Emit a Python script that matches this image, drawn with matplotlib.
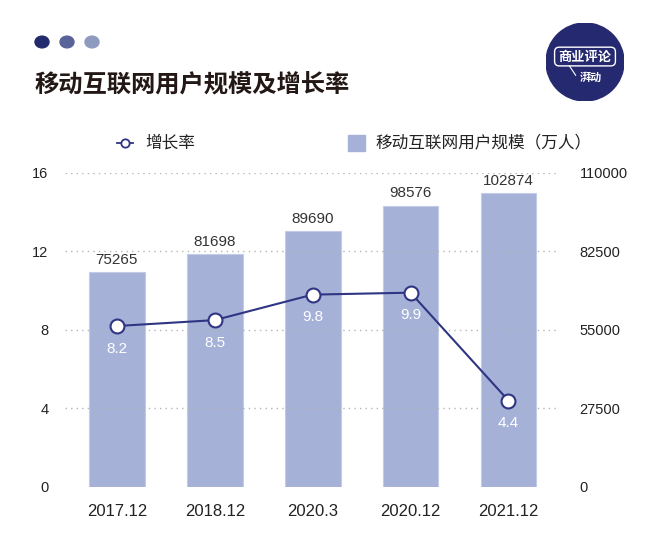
import matplotlib
matplotlib.use('Agg')
import matplotlib.pyplot as plt
from matplotlib.patches import Circle, FancyBboxPatch, Rectangle
from matplotlib.lines import Line2D

plt.rcParams['font.family'] = ['Liberation Sans', 'Noto Sans CJK SC', 'DejaVu Sans']
CJK = ['Noto Sans CJK SC', 'DejaVu Sans']

# 数据
categories = ['2017.12', '2018.12', '2020.3', '2020.12', '2021.12']
users = [75265, 81698, 89690, 98576, 102874]
rate = [8.2, 8.5, 9.8, 9.9, 4.4]
left_ticks = [0, 4, 8, 12, 16]
right_ticks = [0, 27500, 55000, 82500, 110000]
legend_labels = ['增长率', '移动互联网用户规模（万人）']

bar_color = '#a6b1d8'
line_color = '#2f3582'
navy = '#25296f'

W, H = 650, 544
fig = plt.figure(figsize=(6.5, 5.44), dpi=100)
ax = fig.add_axes([0.1, 0.105, 0.762, 0.577])
ax2 = ax.twinx()

x = list(range(len(categories)))

# bars on right axis
ax2.bar(x, users, width=0.57, color=bar_color, edgecolor='#c3cbe8', linewidth=0.8, zorder=2)
for xi, v in zip(x, users):
    ax2.text(xi, v + 1800, str(v), ha='center', va='bottom', fontsize=11, color='#333333')
ax2.set_ylim(0, 110000)
ax2.set_yticks(right_ticks)
ax2.set_yticklabels([str(t) for t in right_ticks])

# gridlines on left axis
ax.set_ylim(0, 16)
ax.set_yticks(left_ticks)
for t in left_ticks[1:]:
    ax.axhline(t, color='#b5b5b5', linestyle=(0, (1, 3)), linewidth=1, zorder=0)

ax.set_zorder(1)
ax.patch.set_visible(False)
ax2.set_zorder(0)

# line on top
ax.plot(x, rate, color=line_color, linewidth=1.5, marker='o', markersize=10,
        markerfacecolor='white', markeredgecolor=line_color, markeredgewidth=1.5, zorder=5)
for xi, v in zip(x, rate):
    ax.text(xi, v - 0.8, str(v), ha='center', va='top', fontsize=11, color='white', zorder=6)

ax.set_xlim(-0.53, 4.53)
ax.set_xticks(x)
ax.set_xticklabels(categories, fontsize=12, color='#222222')

for a in (ax, ax2):
    for s in a.spines.values():
        s.set_visible(False)
    a.tick_params(length=0)
ax.tick_params(axis='y', labelsize=10.5, pad=12, colors='#222222')
ax.tick_params(axis='x', pad=12)
ax2.tick_params(axis='y', labelsize=10.5, pad=14, colors='#222222')

# legend, drawn by hand
ly = 1 - 143 / H
fig.add_artist(Line2D([117 / W, 133 / W], [ly, ly], color=line_color, linewidth=1.3,
                      transform=fig.transFigure))
fig.add_artist(Line2D([125 / W], [ly], marker='o', markersize=6, markerfacecolor='white',
                      markeredgecolor=line_color, markeredgewidth=1.3, transform=fig.transFigure))
fig.text(145 / W, ly, legend_labels[0], family=CJK, fontsize=12, color='#222222',
         va='center', ha='left')
fig.add_artist(Rectangle((348 / W, ly - 8 / H), 17 / W, 16 / H, color=bar_color,
                         transform=fig.transFigure))
fig.text(375 / W, ly, legend_labels[1], family=CJK, fontsize=12, color='#222222',
         va='center', ha='left')

# header dots and title
for cx, c in zip([42, 67, 92], ['#232a6e', '#5a6399', '#8f9ac0']):
    fig.patches.append(Circle((cx / W, 1 - 42 / H), 7 / W, transform=fig.transFigure,
                              color=c, figure=fig))
fig.text(35 / W, 1 - 85 / H, '移动互联网用户规模及增长率', fontsize=17.5, fontweight='bold',
         family=CJK, color='#231815', va='center', ha='left')

# logo
lax = fig.add_axes([546 / W, 1 - 101 / H, 78 / W, 78 / H])
lax.set_xlim(0, 1)
lax.set_ylim(0, 1)
lax.axis('off')
lax.add_patch(Circle((0.5, 0.5), 0.5, color=navy))
lax.add_patch(FancyBboxPatch((0.13, 0.47), 0.74, 0.2, boxstyle='round,pad=0.02,rounding_size=0.06',
                             fill=False, edgecolor='white', linewidth=1))
lax.plot([0.3, 0.38], [0.45, 0.33], color='white', linewidth=0.8)
lax.text(0.5, 0.57, '商业评论', color='white', fontsize=9.5, fontweight='bold', family=CJK,
         ha='center', va='center')
lax.text(0.58, 0.3, '湃动', color='white', fontsize=8, fontweight='bold', family=CJK,
         ha='center', va='center')

fig.savefig('out.png', dpi=100, facecolor='white')
